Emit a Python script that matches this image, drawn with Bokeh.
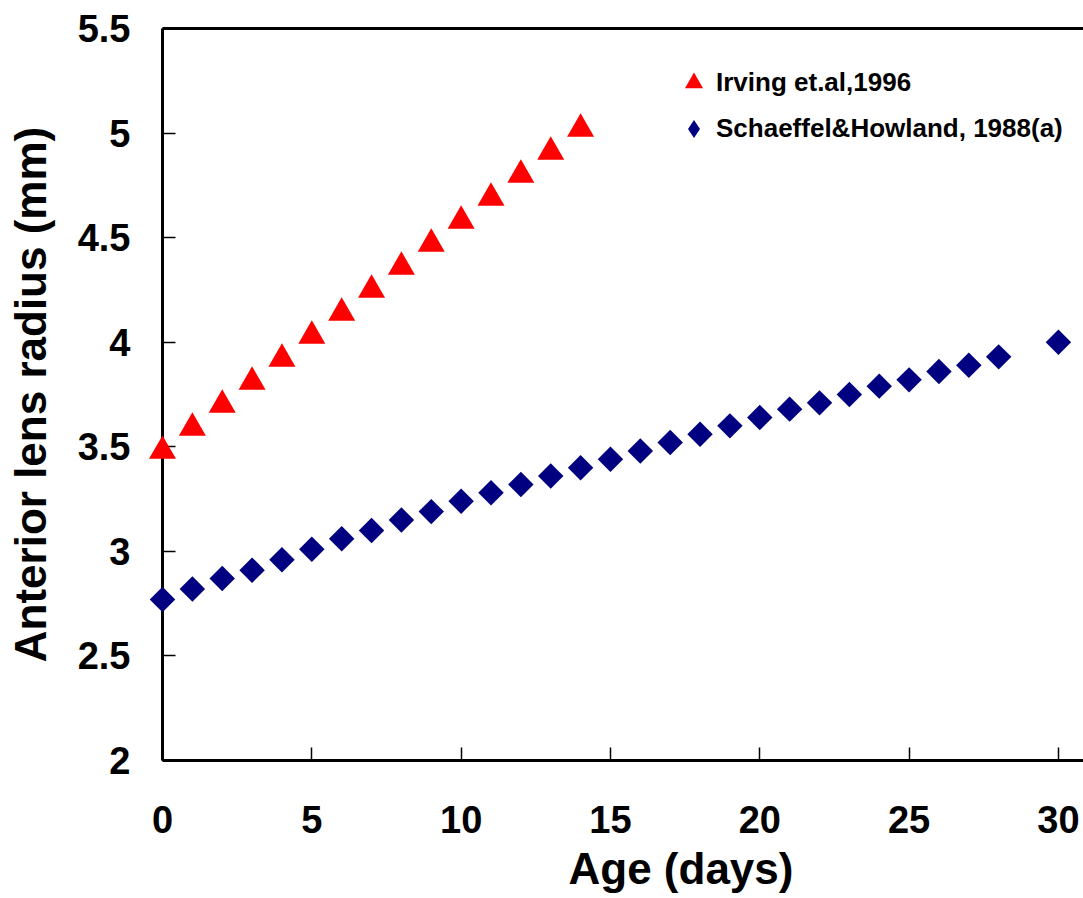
import numpy as np
from bokeh.plotting import figure
from bokeh.models import (ColumnDataSource, FixedTicker, LinearAxis, Legend,
                          LegendItem, Range1d, Title)
from bokeh.embed import file_html
from bokeh.resources import INLINE

# ---- data ----
irving_age = list(range(0, 15))
irving_radius = [3.48, 3.59, 3.70, 3.81, 3.92, 4.03, 4.14, 4.25, 4.36, 4.47,
                 4.58, 4.69, 4.80, 4.91, 5.02]

schaeffel_age = list(range(0, 29)) + [30]
schaeffel_radius = [2.77, 2.82, 2.87, 2.91, 2.96, 3.01, 3.06, 3.10, 3.15, 3.19,
                    3.24, 3.28, 3.32, 3.36, 3.40, 3.44, 3.48, 3.52, 3.56, 3.60,
                    3.64, 3.68, 3.71, 3.75, 3.79, 3.82, 3.86, 3.89, 3.93, 4.00]

x_ticks = [0, 5, 10, 15, 20, 25, 30]
y_ticks = [2, 2.5, 3, 3.5, 4, 4.5, 5, 5.5]
y_tick_labels = ["2", "2.5", "3", "3.5", "4", "4.5", "5", "5.5"]

series_names = ["Irving et.al,1996", "Schaeffel&Howland, 1988(a)"]
x_title = "Age (days)"
y_title = "Anterior lens radius (mm)"

FONT = "Liberation Sans"

p = figure(width=1083, height=898, output_backend="svg", toolbar_location=None,
           x_range=Range1d(0, 30.84), y_range=Range1d(2, 5.5),
           min_border_left=162, min_border_right=0, min_border_top=28,
           min_border_bottom=138)
p.outline_line_color = None
p.background_fill_color = "white"
p.border_fill_color = "white"
p.xgrid.visible = False
p.ygrid.visible = False

# axes styling
for ax in (p.xaxis[0], p.yaxis[0]):
    ax.axis_line_width = 3
    ax.axis_line_color = "black"
    ax.major_tick_in = 13
    ax.major_tick_out = 0
    ax.major_tick_line_width = 1.5
    ax.minor_tick_in = 0
    ax.minor_tick_out = 0
    ax.major_label_text_font = FONT
    ax.major_label_text_font_style = "bold"
    ax.major_label_text_font_size = "38px"
    ax.major_label_text_color = "black"
    ax.axis_label_text_font = FONT
    ax.axis_label_text_font_style = "bold"
    ax.axis_label_text_color = "black"

p.xaxis[0].ticker = FixedTicker(ticks=x_ticks)
p.yaxis[0].ticker = FixedTicker(ticks=y_ticks)
p.yaxis[0].major_label_overrides = {t: l for t, l in zip(y_ticks, y_tick_labels)}
p.yaxis[0].axis_label = y_title
p.yaxis[0].axis_label_text_font_size = "44px"
p.xaxis[0].major_label_standoff = 45
p.yaxis[0].major_label_standoff = 32
p.yaxis[0].axis_label_standoff = 20

# x title, placed where the original (wider) frame centred it
p.add_layout(Title(text=x_title, align="left", offset=406, standoff=12,
                   text_font=FONT, text_font_style="bold",
                   text_font_size="44px", text_color="black"), "below")

# top frame line
top_axis = LinearAxis(ticker=FixedTicker(ticks=[]), axis_line_width=3,
                      major_tick_in=0, major_tick_out=0,
                      minor_tick_in=0, minor_tick_out=0,
                      major_label_text_font_size="0px")
p.add_layout(top_axis, "above")

src_irv = ColumnDataSource(dict(x=irving_age, y=irving_radius))
src_sch = ColumnDataSource(dict(x=schaeffel_age, y=schaeffel_radius))

r_irv = p.scatter("x", "y", source=src_irv, marker="triangle", size=27,
                  fill_color="#FF0000", line_color=None, level="overlay")
r_sch = p.scatter("x", "y", source=src_sch, marker="square", size=18,
                  angle=np.pi / 4, fill_color="#000080", line_color=None,
                  level="overlay")
# legend swatch for the diamonds (zero-size in the plot itself)
r_sch_leg = p.scatter("x", "y", source=src_sch, marker="diamond", size=0,
                      fill_color="#000080", line_color=None)

legend = Legend(items=[LegendItem(label=series_names[0], renderers=[r_irv]),
                       LegendItem(label=series_names[1], renderers=[r_sch_leg])],
                location=(509, 609), glyph_width=45, glyph_height=45,
                spacing=1, padding=0, margin=0, label_standoff=0,
                label_text_font=FONT, label_text_font_style="bold",
                label_text_font_size="26px", label_text_color="black",
                border_line_color=None, background_fill_alpha=0)
p.add_layout(legend, "center")

open("out.html", "w").write(file_html(p, INLINE))
